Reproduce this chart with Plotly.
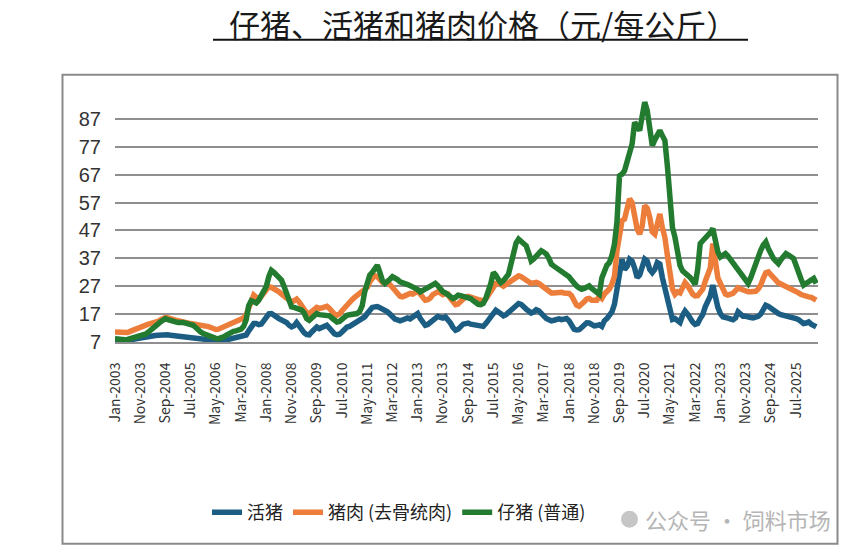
import pandas as pd
import plotly.graph_objects as go

# Monthly categories Jan-2003 .. Mar-2026
months = pd.date_range("2003-01-01", periods=279, freq="MS").strftime("%b-%Y").tolist()

# 活猪 (live hog), yuan/kg
live = [
    7.9, 7.8, 7.6, 7.5, 7.5, 7.6, 7.8, 8.0, 8.2, 8.3, 8.4, 8.6,          # 2003
    8.8, 9.0, 9.1, 9.2, 9.3, 9.4, 9.5, 9.6, 9.7, 9.6, 9.4, 9.3,          # 2004
    9.2, 9.1, 8.9, 8.7, 8.6, 8.5, 8.5, 8.4, 8.3, 8.3, 8.2, 8.2,          # 2005
    8.1, 7.9, 7.7, 7.5, 7.3, 7.2, 7.3, 7.5, 7.7, 7.9, 8.1, 8.4,          # 2006
    8.5, 8.5, 8.6, 8.8, 9.5, 11.0, 12.5, 13.6, 13.6, 13.2, 13.4, 14.8,   # 2007
    16.0, 17.1, 17.2, 16.8, 16.0, 15.4, 15.0, 14.6, 14.0, 13.0, 12.4, 12.8,  # 2008
    14.0, 12.8, 11.4, 10.3, 9.7, 9.6, 10.6, 11.8, 12.4, 11.8, 12.2, 13.0,    # 2009
    13.0, 12.0, 10.8, 9.9, 9.6, 9.8, 10.6, 11.6, 12.4, 12.6, 13.2, 13.8,     # 2010
    14.3, 14.8, 15.2, 16.0, 17.2, 18.6, 19.4, 19.6, 19.7, 19.3, 18.9, 18.4,  # 2011
    17.8, 17.0, 16.0, 15.2, 14.9, 14.6, 14.9, 15.5, 15.6, 15.3, 15.8, 16.6,  # 2012
    17.2, 15.5, 13.8, 13.0, 13.3, 14.0, 15.0, 15.9, 16.2, 15.8, 15.6, 16.0,  # 2013
    15.2, 13.8, 12.2, 11.2, 11.6, 12.6, 13.4, 13.6, 13.8, 13.4, 13.2, 13.4,  # 2014
    13.3, 13.0, 12.6, 13.6, 15.0, 16.4, 17.8, 18.4, 17.8, 17.0, 16.4, 16.8,  # 2015
    17.4, 18.4, 19.2, 20.2, 20.8, 20.5, 19.4, 18.8, 18.1, 17.4, 17.8, 18.6,  # 2016
    18.2, 17.0, 16.2, 15.4, 15.0, 14.6, 14.8, 15.1, 15.3, 15.0, 15.0, 15.4,  # 2017
    14.6, 13.0, 11.6, 11.3, 11.4, 12.2, 13.2, 13.9, 13.8, 13.3, 12.8, 12.9,  # 2018
    13.2, 12.6, 14.6, 15.4, 16.4, 17.8, 20.5, 26.5, 33.0, 36.7, 33.0, 34.0,  # 2019
    36.7, 36.0, 33.5, 30.1, 31.0, 33.5, 36.7, 36.0, 33.0, 31.9, 33.0, 35.5,  # 2020
    35.0, 30.1, 26.0, 22.0, 18.1, 15.1, 15.4, 14.5, 14.0, 16.5, 18.1, 17.0,  # 2021
    15.1, 14.2, 13.3, 13.6, 15.4, 16.8, 19.6, 21.5, 23.5, 27.4, 22.5, 19.4,  # 2022
    17.2, 16.0, 15.8, 15.4, 15.2, 15.0, 15.6, 17.8, 17.0, 16.2, 16.2, 15.8,  # 2023
    15.8, 15.6, 15.8, 16.2, 17.0, 19.0, 20.2, 19.8, 19.0, 18.2, 17.6, 17.2,  # 2024
    16.8, 16.6, 16.6, 16.3, 16.0, 15.7, 15.4, 15.0, 14.5, 13.6, 13.8, 14.2,  # 2025
    13.4, 12.6, 12.4,                                                        # 2026
]

# 猪肉 (去骨统肉) (pork), yuan/kg
pork = [
    10.6, 10.5, 10.4, 10.4, 10.3, 10.4, 10.8, 11.2, 11.8, 12.2, 12.6, 12.9,  # 2003
    13.2, 13.3, 13.6, 13.8, 14.0, 14.4, 14.9, 15.4, 15.8, 15.6, 15.2, 14.9,  # 2004
    14.8, 14.6, 14.3, 14.0, 13.8, 13.6, 13.6, 13.5, 13.4, 13.2, 13.0, 13.0,  # 2005
    12.8, 12.5, 12.2, 11.8, 11.5, 11.6, 12.0, 12.6, 13.0, 13.4, 13.6, 14.0,  # 2006
    14.6, 15.0, 15.2, 15.6, 16.8, 19.0, 21.4, 23.8, 23.0, 22.2, 23.4, 24.8,  # 2007
    26.0, 26.8, 26.6, 26.2, 25.6, 25.0, 24.2, 23.6, 22.8, 22.0, 21.4, 21.8,  # 2008
    22.4, 21.4, 19.8, 18.4, 17.4, 17.2, 18.0, 19.0, 19.4, 19.0, 19.2, 19.6,  # 2009
    19.8, 19.0, 17.8, 17.0, 16.6, 17.0, 18.2, 19.4, 20.6, 21.4, 22.2, 23.0,  # 2010
    23.8, 24.4, 24.8, 25.6, 26.6, 28.6, 30.2, 30.8, 30.4, 29.2, 28.4, 28.2,  # 2011
    28.2, 27.6, 26.6, 25.2, 24.0, 23.4, 23.2, 23.6, 24.2, 24.4, 24.2, 24.8,  # 2012
    25.2, 24.2, 23.0, 22.0, 22.2, 22.8, 24.0, 24.8, 25.0, 24.6, 24.0, 24.4,  # 2013
    24.2, 22.6, 21.0, 20.4, 20.6, 21.6, 22.6, 23.2, 23.4, 23.0, 22.6, 22.4,  # 2014
    22.2, 22.0, 21.8, 22.4, 24.0, 25.6, 27.0, 28.0, 28.2, 27.4, 27.0, 27.6,  # 2015
    28.2, 28.8, 29.4, 30.2, 30.7, 30.4, 29.6, 29.0, 28.6, 28.0, 28.2, 28.4,  # 2016
    28.0, 27.2, 26.4, 25.6, 25.0, 24.6, 24.6, 24.8, 25.0, 24.8, 24.6, 24.6,  # 2017
    24.4, 23.6, 21.6, 20.2, 19.8, 20.4, 21.4, 22.4, 22.6, 22.0, 21.8, 22.0,  # 2018
    23.4, 22.6, 24.2, 25.2, 26.0, 27.8, 30.5, 39.7, 46.0, 50.5, 51.1, 54.0,  # 2019
    58.3, 57.0, 52.3, 47.5, 45.7, 48.5, 55.9, 55.0, 51.7, 46.5, 45.7, 49.0,  # 2020
    52.9, 48.0, 44.5, 38.0, 30.1, 26.0, 24.1, 25.0, 24.6, 26.5, 28.3, 27.2,  # 2021
    25.6, 24.2, 23.5, 23.6, 24.8, 25.9, 28.8, 31.0, 33.5, 42.3, 36.0, 30.0,  # 2022
    28.0, 25.6, 24.2, 23.8, 24.0, 24.4, 25.4, 26.4, 26.0, 25.6, 25.2, 25.0,  # 2023
    25.0, 25.0, 25.2, 26.0, 27.4, 29.8, 31.8, 32.1, 31.0, 29.8, 29.0, 28.2,  # 2024
    27.8, 27.4, 27.0, 26.6, 26.0, 25.6, 25.2, 24.6, 24.0, 23.6, 23.4, 23.2,  # 2025
    23.0, 22.4, 22.0,                                                        # 2026
]

# 仔猪 (普通) (piglet), yuan/kg
piglet = [
    8.2, 8.0, 7.9, 7.8, 7.8, 7.9, 8.1, 8.4, 8.8, 9.0, 9.2, 9.4,              # 2003
    9.8, 10.4, 11.0, 11.8, 12.6, 13.4, 14.2, 14.8, 15.4, 15.0, 14.6, 14.2,   # 2004
    14.2, 14.0, 14.1, 14.0, 13.8, 13.6, 13.6, 13.0, 12.2, 11.2, 10.6, 10.0,  # 2005
    9.6, 9.4, 9.0, 8.6, 8.3, 8.2, 8.4, 8.8, 9.4, 10.0, 10.4, 10.8,           # 2006
    11.0, 11.2, 11.6, 12.6, 15.0, 20.0, 21.8, 21.4, 21.0, 22.0, 23.4, 25.2,  # 2007
    27.0, 30.5, 32.7, 32.0, 30.8, 30.0, 29.2, 27.0, 24.0, 21.0, 19.6, 19.4,  # 2008
    19.2, 18.8, 18.4, 17.4, 15.4, 14.8, 15.6, 16.8, 17.2, 16.8, 16.6, 16.6,  # 2009
    16.6, 16.4, 15.6, 14.8, 14.2, 14.4, 15.2, 16.0, 16.6, 16.8, 17.0, 17.2,  # 2010
    17.2, 18.0, 20.0, 25.0, 28.5, 31.0, 32.0, 33.5, 34.5, 32.0, 29.0, 28.0,  # 2011
    28.5, 29.5, 30.4, 30.0, 29.4, 28.6, 28.4, 28.0, 27.6, 27.2, 26.8, 26.4,  # 2012
    25.8, 25.0, 25.6, 26.2, 26.6, 27.2, 27.8, 28.0, 27.2, 26.0, 25.0, 24.6,  # 2013
    24.0, 23.2, 22.6, 23.0, 23.8, 23.6, 23.4, 23.2, 23.2, 22.6, 21.8, 21.0,  # 2014
    20.5, 20.4, 20.8, 22.6, 24.7, 28.0, 31.9, 31.0, 29.4, 28.3, 29.0, 30.2,  # 2015
    31.3, 35.0, 39.7, 42.5, 43.9, 43.0, 42.0, 41.5, 39.0, 36.1, 36.8, 38.0,  # 2016
    39.0, 39.7, 39.2, 38.5, 37.0, 34.9, 34.2, 33.6, 33.1, 32.4, 31.8, 31.3,  # 2017
    30.4, 29.2, 27.8, 27.1, 26.4, 25.9, 26.2, 26.8, 27.1, 26.2, 25.3, 24.7,  # 2018
    24.1, 30.0, 33.0, 34.5, 35.5, 38.0, 42.1, 50.0, 66.6, 67.2, 68.4, 72.0,  # 2019
    75.6, 78.0, 85.8, 84.5, 82.8, 88.0, 93.0, 90.0, 84.0, 77.4, 79.5, 81.5,  # 2020
    82.8, 81.0, 79.2, 70.0, 57.7, 48.0, 44.5, 40.0, 34.5, 32.5, 31.8, 30.7,  # 2021
    30.2, 29.0, 27.7, 33.0, 42.3, 43.3, 44.1, 45.0, 46.2, 47.7, 42.0, 39.3,  # 2022
    37.5, 38.2, 38.7, 37.8, 36.5, 35.1, 34.0, 32.7, 31.5, 30.0, 28.6, 28.0,  # 2023
    30.0, 32.7, 35.0, 37.5, 39.9, 41.8, 42.9, 40.5, 38.1, 37.0, 36.0, 35.1,  # 2024
    36.5, 37.8, 38.7, 38.2, 37.6, 36.9, 34.5, 31.5, 29.5, 27.4, 27.8, 28.6,  # 2025
    29.2, 29.8, 28.0,                                                        # 2026
]

series_names = ["活猪", "猪肉 (去骨统肉)", "仔猪 (普通)"]
series_colors = ["#1c5e83", "#ec7d3a", "#237b30"]
y_ticks = [7, 17, 27, 37, 47, 57, 67, 77, 87]
x_ticks = months[::10]

title_text = "仔猪、活猪和猪肉价格（元/每公斤）"
watermark_text = "公众号 · 饲料市场"

# plot-area geometry (pixels) used to convert decorative items to paper coords
L, R, T, B = 115, 818, 91.2, 341.7
W, H = R - L, B - T
def px(x):
    return (x - L) / W
def py(y):
    return (B - y) / H

fig = go.Figure()
for name, vals, color in zip(series_names, [live, pork, piglet], series_colors):
    fig.add_trace(go.Scatter(x=months, y=vals, mode="lines", name=name,
                             line=dict(color=color, width=5.5)))

cjk = "Noto Sans CJK SC, Noto Sans, sans-serif"
latin = "Liberation Sans, Noto Sans, sans-serif"

fig.update_layout(
    width=865, height=552,
    margin=dict(l=L, r=865 - R, t=T, b=552 - B),
    paper_bgcolor="white", plot_bgcolor="white",
    font=dict(family=cjk, color="#333333"),
    showlegend=True,
    legend=dict(orientation="h", x=px(399), xanchor="center", y=py(512), yanchor="middle",
                font=dict(size=18, color="#222222", family=cjk), bgcolor="rgba(0,0,0,0)",
                itemwidth=30),
    xaxis=dict(type="category", categoryorder="array", categoryarray=months,
               range=[0, 278.7], tickmode="array", tickvals=x_ticks, ticktext=x_ticks,
               tickangle=-90, showgrid=False, showline=True, linecolor="#8f8f8f", linewidth=2,
               ticks="", ticklabelstandoff=13,
               tickfont=dict(size=14, color="#333333", family=cjk)),
    yaxis=dict(range=[7, 97], tickmode="array", tickvals=y_ticks, showgrid=True,
               gridcolor="#8f8f8f", gridwidth=2, zeroline=False, showline=False, ticks="",
               ticklabelstandoff=13,
               tickfont=dict(size=20, color="#333333", family=latin)),
    shapes=[
        # outer chart frame
        dict(type="rect", xref="paper", yref="paper", x0=px(62.5), x1=px(837.5), y0=py(543), y1=py(75),
             line=dict(color="#8a8a8a", width=2), fillcolor="rgba(0,0,0,0)", layer="below"),
        # title underline
        dict(type="line", xref="paper", yref="paper", x0=px(213), x1=px(748), y0=py(40), y1=py(40),
             line=dict(color="#111111", width=2)),
        # watermark icon
        dict(type="circle", xref="paper", yref="paper", x0=px(621), x1=px(638), y0=py(527), y1=py(510),
             line=dict(width=0), fillcolor="rgba(160,160,160,0.6)"),
    ],
    annotations=[
        dict(text=title_text, xref="paper", yref="paper", x=px(483), y=py(0.5), xanchor="center",
             yanchor="top", borderpad=0, showarrow=False,
             font=dict(size=31, color="#1a1a1a", family=cjk)),
        dict(text=watermark_text, xref="paper", yref="paper", x=px(738), y=py(518), xanchor="center",
             yanchor="middle", showarrow=False, font=dict(size=22, color="#b5b5b5", family=cjk)),
    ],
)

fig.write_html("out.html")
